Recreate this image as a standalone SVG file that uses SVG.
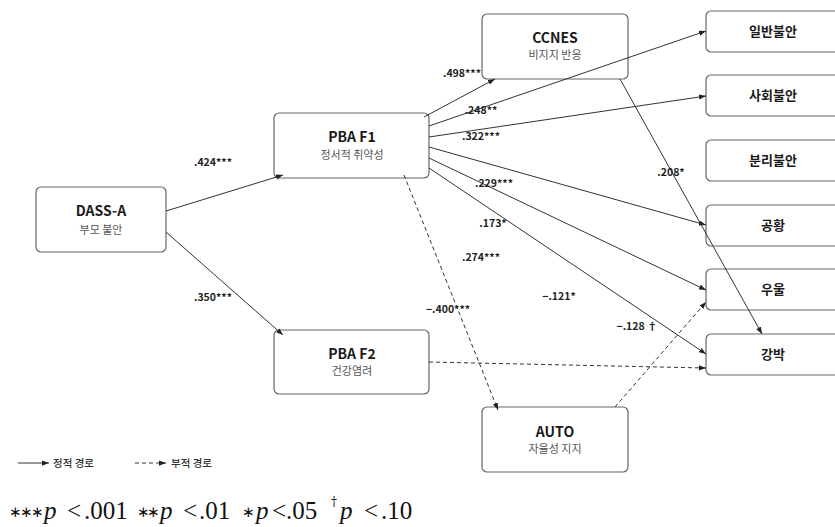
<svg xmlns="http://www.w3.org/2000/svg" width="835" height="527" viewBox="0 0 835 527">
<defs>
<marker id="ah" viewBox="0 0 8 6" refX="8" refY="3" markerWidth="7" markerHeight="5.5" markerUnits="userSpaceOnUse" orient="auto">
<path d="M0,0 L8,3 L0,6 Z" fill="#222"/>
</marker>
<style>
.box{fill:#fff;stroke:#666;stroke-width:1.2}
.t{font-family:"Noto Sans CJK KR","Noto Sans",sans-serif;font-weight:700;font-size:14px;fill:#1a1a1a;text-anchor:middle}
.rt{font-family:"Noto Sans CJK KR","Noto Sans",sans-serif;font-weight:700;font-size:13px;fill:#1a1a1a;text-anchor:middle}
.s{font-family:"Noto Sans CJK KR","Noto Sans",sans-serif;font-size:11px;fill:#555;text-anchor:middle}
.e{fill:none;stroke:#333;stroke-width:1;marker-end:url(#ah)}
.d{stroke-dasharray:4,3}
.lb{font-family:"Noto Sans CJK KR","Noto Sans",sans-serif;font-weight:700;font-size:10.5px;fill:#222;text-anchor:middle}
.lg{font-family:"Noto Sans CJK KR","Noto Sans",sans-serif;font-weight:500;font-size:10.5px;fill:#333}
.fn{font-family:"Liberation Serif",serif;font-size:25px;fill:#111}
.it{font-style:italic}
.ast{font-family:"DejaVu Sans",sans-serif;font-size:15px;fill:#111}
.dg{font-family:"DejaVu Serif",serif;font-size:12px;fill:#111}
</style>
</defs>
<rect width="835" height="527" fill="#fff"/>

<g id="dass">
<rect class="box" x="36" y="187" width="130" height="65" rx="5"/>
<text class="t" x="101" y="216">DASS-A</text>
<text class="s" x="101" y="234">부모 불안</text>
</g>
<g id="pbaf1">
<rect class="box" x="274" y="113" width="155" height="65" rx="5"/>
<text class="t" x="352" y="142">PBA F1</text>
<text class="s" x="352" y="159">정서적 취약성</text>
</g>
<g id="pbaf2">
<rect class="box" x="274" y="330" width="155" height="64" rx="5"/>
<text class="t" x="352" y="359">PBA F2</text>
<text class="s" x="352" y="375">건강염려</text>
</g>
<g id="ccnes">
<rect class="box" x="482" y="14" width="146" height="65" rx="5"/>
<text class="t" x="555" y="43">CCNES</text>
<text class="s" x="555" y="59">비지지 반응</text>
</g>
<g id="auto">
<rect class="box" x="482" y="407" width="146" height="65" rx="5"/>
<text class="t" x="555" y="437">AUTO</text>
<text class="s" x="555" y="453">자율성 지지</text>
</g>
<g id="general">
<rect class="box" x="706" y="11" width="134" height="41" rx="5"/>
<text class="rt" x="773" y="36">일반불안</text>
</g>
<g id="social">
<rect class="box" x="706" y="75" width="134" height="41" rx="5"/>
<text class="rt" x="773" y="100">사회불안</text>
</g>
<g id="separation">
<rect class="box" x="706" y="140" width="134" height="41" rx="5"/>
<text class="rt" x="773" y="165">분리불안</text>
</g>
<g id="panic">
<rect class="box" x="706" y="205" width="134" height="41" rx="5"/>
<text class="rt" x="773" y="230">공황</text>
</g>
<g id="depression">
<rect class="box" x="706" y="269" width="134" height="41" rx="5"/>
<text class="rt" x="773" y="294">우울</text>
</g>
<g id="ocd">
<rect class="box" x="706" y="334" width="134" height="41" rx="5"/>
<text class="rt" x="773" y="359">강박</text>
</g>

<g id="connectors">
<path class="e" d="M166,211 L283,175"/>
<path class="e" d="M166,232 L283,335"/>
<path class="e" d="M424,117 L495,79"/>
<path class="e" d="M429,126 L706,31"/>
<path class="e" d="M429,137 L706,96"/>
<path class="e" d="M429,147 L706,225"/>
<path class="e" d="M429,158 L706,290"/>
<path class="e" d="M429,168 L706,354"/>
<path class="e" d="M620,79 L762,334"/>
<path class="e d" d="M404,175 L498,410"/>
<path class="e d" d="M429,362 L706,368"/>
<path class="e d" d="M615,407 L706,302"/>
</g>

<g id="edge-labels">
<text class="lb" x="213" y="166">.424***</text>
<text class="lb" x="213" y="301">.350***</text>
<text class="lb" x="462" y="77">.498***</text>
<text class="lb" x="481" y="114">.248**</text>
<text class="lb" x="481" y="140">.322***</text>
<text class="lb" x="494" y="187">.229***</text>
<text class="lb" x="493" y="227">.173*</text>
<text class="lb" x="481" y="261">.274***</text>
<text class="lb" x="671" y="176">.208*</text>
<text class="lb" x="448" y="313">−.400***</text>
<text class="lb" x="559" y="300">−.121*</text>
<text class="lb" x="637" y="330">−.128 †</text>
</g>

<g id="legend">
<path class="e" d="M18,463 L49,463"/>
<text class="lg" x="53" y="467">정적 경로</text>
<path class="e d" d="M135,463 L166,463"/>
<text class="lg" x="171" y="467">부적 경로</text>
</g>

<g id="footnote">
<text class="ast" y="517" x="9 20 31">∗∗∗</text>
<text class="fn it" x="44" y="519">p</text>
<text class="fn" x="67" y="519">&lt;</text>
<text class="fn" x="84" y="519">.001</text>
<text class="ast" y="517" x="137 147">∗∗</text>
<text class="fn it" x="160" y="519">p</text>
<text class="fn" x="183" y="519">&lt;</text>
<text class="fn" x="199" y="519">.01</text>
<text class="ast" y="517" x="242">∗</text>
<text class="fn it" x="256" y="519">p</text>
<text class="fn" x="272" y="519">&lt;</text>
<text class="fn" x="286" y="519">.05</text>
<text class="dg" x="331" y="506">†</text>
<text class="fn it" x="340" y="519">p</text>
<text class="fn" x="364" y="519">&lt;</text>
<text class="fn" x="381" y="519">.10</text>
</g>
</svg>
